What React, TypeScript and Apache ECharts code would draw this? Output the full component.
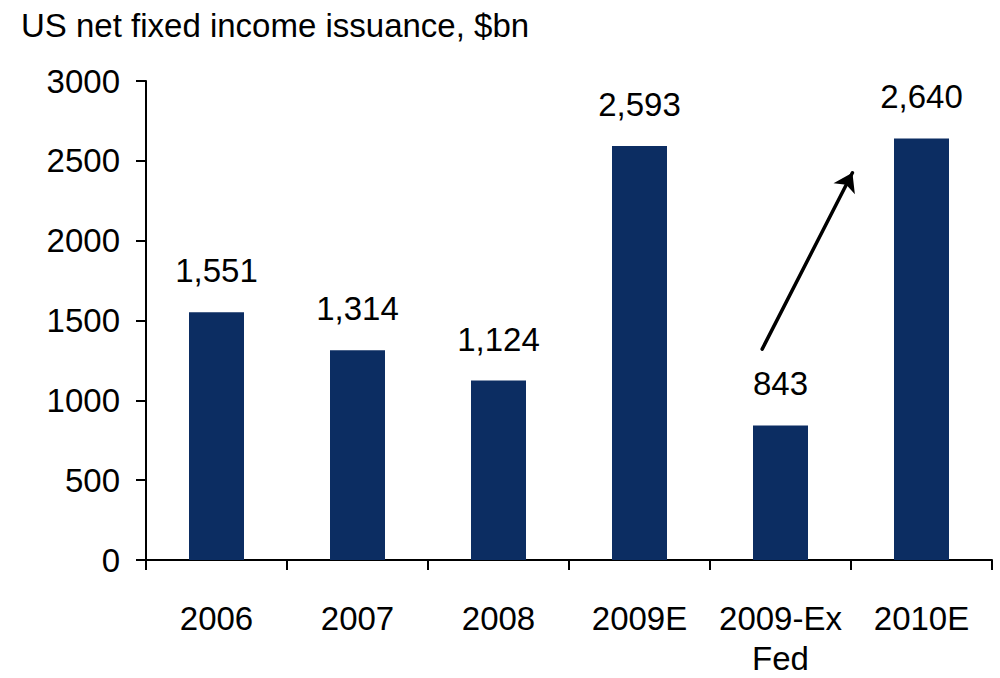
import React, { useEffect, useRef } from "react";
import * as echarts from "echarts";

const titleText = "US net fixed income issuance, $bn";
const categories = ["2006", "2007", "2008", "2009E", "2009-Ex Fed", "2010E"];
const values = [1551, 1314, 1124, 2593, 843, 2640];
const yTicks = [0, 500, 1000, 1500, 2000, 2500, 3000];
// arrow annotation in data units (x: category slots 0..6 on a hidden value axis)
const arrowStart = [4.37, 1321];
const arrowEnd = [5.01, 2425];

const FONT = "'Liberation Sans', Arial, sans-serif";
const FS = 33;

export default function App() {
  const ref = useRef<HTMLDivElement>(null);
  useEffect(() => {
    if (!ref.current) return;
    const chart = echarts.init(ref.current, null, { renderer: "svg" });
    const fmt = (v: number) => v.toLocaleString("en-US");
    chart.setOption({
      animation: false,
      backgroundColor: "#ffffff",
      textStyle: { fontFamily: FONT },
      title: {
        text: titleText,
        left: 16,
        top: 4,
        textStyle: { fontFamily: FONT, fontSize: FS, fontWeight: "normal", color: "#000" },
      },
      grid: { left: 146, right: 8, top: 81, bottom: 112, containLabel: false },
      xAxis: [
        {
          type: "category",
          data: categories,
          axisLine: { lineStyle: { color: "#000", width: 2 } },
          axisTick: { show: true, alignWithLabel: false, length: 10, lineStyle: { color: "#000", width: 2 } },
          axisLabel: {
            color: "#000",
            fontSize: FS,
            fontFamily: FONT,
            margin: 38,
            lineHeight: 40,
            interval: 0,
            formatter: (v: string) => v.replace(" Fed", "\nFed"),
          },
        },
        {
          type: "value",
          min: 0,
          max: categories.length,
          show: false,
        },
      ],
      yAxis: {
        type: "value",
        min: yTicks[0],
        max: yTicks[yTicks.length - 1],
        interval: 500,
        splitLine: { show: false },
        axisLine: { show: true, lineStyle: { color: "#000", width: 2 } },
        axisTick: { show: true, length: 10, lineStyle: { color: "#000", width: 2 } },
        axisLabel: {
          color: "#000",
          fontSize: FS,
          fontFamily: FONT,
          margin: 26,
          formatter: (v: number) => String(v),
        },
      },
      series: [
        {
          type: "bar",
          data: values,
          barWidth: 55,
          itemStyle: { color: "#0c2d62" },
          label: {
            show: true,
            position: "top",
            distance: 25,
            color: "#000",
            fontSize: FS,
            fontFamily: FONT,
            formatter: (p: any) => fmt(p.value),
          },
        },
        {
          type: "scatter",
          xAxisIndex: 1,
          data: [arrowStart, arrowEnd],
          symbol: "none",
          silent: true,
          markLine: {
            silent: true,
            symbol: ["none", "arrow"],
            symbolSize: 18,
            label: { show: false },
            emphasis: { disabled: true },
            lineStyle: { color: "#000", width: 3.5, type: "solid", cap: "round" },
            itemStyle: { color: "#000" },
            data: [[{ coord: arrowStart }, { coord: arrowEnd }]],
          },
        },
      ],
    });
    return () => chart.dispose();
  }, []);
  return <div ref={ref} style={{ width: 1000, height: 678, position: "absolute", left: 0, top: 0 }} />;
}
